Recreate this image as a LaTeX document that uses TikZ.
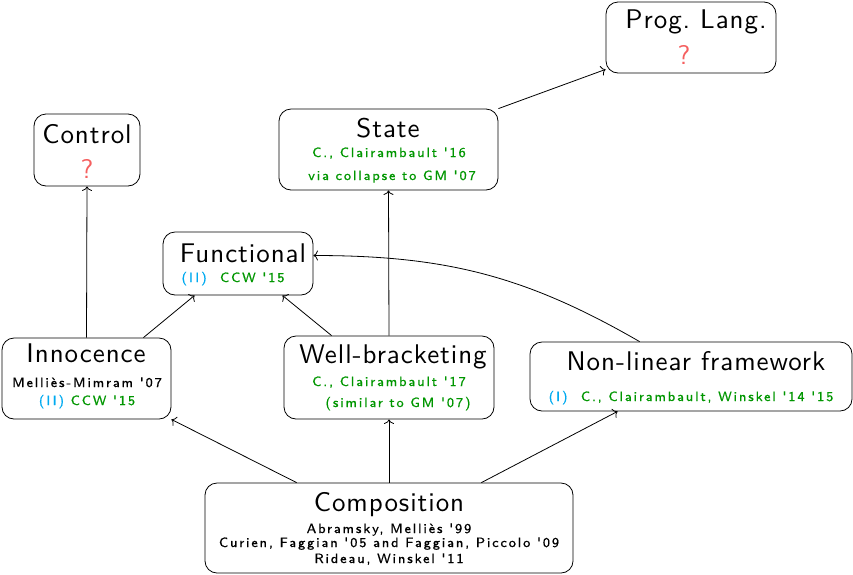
\documentclass[tikz,border=0pt]{standalone}
\usepackage{fontspec}
\usetikzlibrary{calc,arrows.meta}
\definecolor{citegreen}{RGB}{0,150,0}
\definecolor{partblue}{RGB}{0,170,240}
\definecolor{openred}{RGB}{245,95,95}
% spaced sans faces for headings and notes
\newfontfamily\headface{lmsans10-regular.otf}[LetterSpace=3.5]
\newfontfamily\noteface{lmsans8-regular.otf}[LetterSpace=14,FakeBold=0.8]
\newcommand{\bigsans}{\headface\fontsize{27}{30}\selectfont}
\newcommand{\smallsans}{\noteface\fontsize{13.5}{16}\selectfont}
\begin{document}
\begin{tikzpicture}[x=1pt,y=-1pt,
  box/.style={draw, rounded corners=12pt, line width=0.8pt, inner sep=0pt},
  ttl/.style={anchor=base, inner sep=0pt, font=\bigsans},
  sml/.style={anchor=base, inner sep=0pt, font=\smallsans},
  cite/.style={anchor=base, inner sep=0pt, text=citegreen, font=\smallsans},
  qmark/.style={anchor=base, inner sep=0pt, text=openred, font=\bigsans},
  arr/.style={-{To[length=4.5pt,width=10pt]}, line width=0.8pt}]
\useasboundingbox (0,0) rectangle (853,574);

% boxes
\node[box, minimum width=170pt, minimum height=71pt] (prog) at (691,37.5) {};
\node[box, minimum width=106pt, minimum height=72pt] (control) at (87,150) {};
\node[box, minimum width=219pt, minimum height=81pt] (state) at (388.5,149.5) {};
\node[box, minimum width=150pt, minimum height=63pt] (func) at (238,263.5) {};
\node[box, minimum width=169pt, minimum height=81pt] (inno) at (86.5,378.5) {};
\node[box, minimum width=210pt, minimum height=83pt] (wb) at (389,377.5) {};
\node[box, minimum width=322pt, minimum height=69pt] (nl) at (691,376.5) {};
\node[box, minimum width=368pt, minimum height=90pt] (comp) at (389,528) {};

% texts
\node[ttl] (progT) at (696,28) {Prog.\ Lang.};
\node[qmark] (progQ) at (684,64) {?};

\node[ttl] (controlT) at (87,143) {Control};
\node[qmark] (controlQ) at (87,178) {?};

\node[ttl] (stateT) at (388,137) {State};
\node[cite] (stateA) at (389,157) {C., Clairambault '16};
\node[cite] (stateB) at (392,180) {via collapse to GM '07};

\node[ttl] (funcT) at (243,262) {Functional};
\node[cite] (funcA) at (233,282) {\textcolor{partblue}{(II)}\ \ CCW '15};

\node[ttl] (innoT) at (86,362) {Innocence};
\node[sml] (innoA) at (87,387) {Melliès-Mimram '07};
\node[cite] (innoB) at (87,405) {\textcolor{partblue}{(II)} CCW '15};

\node[ttl] (wbT) at (393,363) {Well-bracketing};
\node[cite] (wbA) at (389,386) {C., Clairambault '17};
\node[cite] (wbB) at (398,407) {(similar to GM '07)};

\node[ttl] (nlT) at (696,370) {Non-linear framework};
\node[cite] (nlA) at (691,401) {\textcolor{partblue}{(I)}\ \ C., Clairambault, Winskel '14 '15};

\node[ttl] (compT) at (389,511) {Composition};
\node[sml] (compA) at (389,533) {Abramsky, Melliès '99};
\node[sml] (compB) at (389,547) {Curien, Faggian '05 and Faggian, Piccolo '09};
\node[sml] (compC) at (389,563) {Rideau, Winskel '11};

% connectors
\draw[arr] (inno.north) -- (control.south);
\draw[arr] ($(inno.north east)+(-28,0)$) -- ($(func.south west)+(32,0)$);
\draw[arr] ($(wb.north west)+(48,0)$) -- ($(func.south east)+(-31,0)$);
\draw[arr] (wb.north) -- (state.south);
\draw[arr] (state.north east) -- ($(prog.south west)+(0,-4)$);
\draw[arr] ($(nl.north west)+(110,0)$) to[out=150,in=0] ($(func.east)+(0,-8)$);
\draw[arr] ($(comp.north west)+(92,0)$) -- (inno.south east);
\draw[arr] (comp.north) -- (wb.south);
\draw[arr] ($(comp.north east)+(-92,0)$) -- ($(nl.south west)+(88,0)$);
\end{tikzpicture}
\end{document}
